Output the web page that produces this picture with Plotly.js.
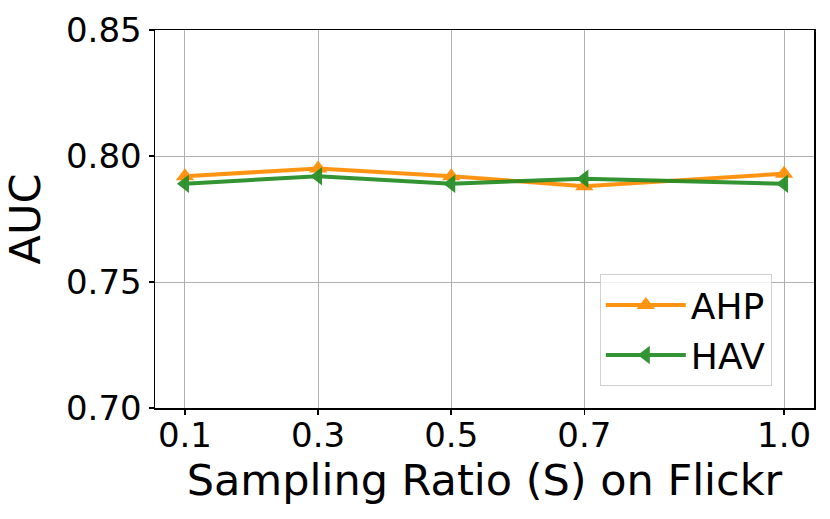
<!DOCTYPE html>
<html>
<head>
<meta charset="utf-8">
<script src="https://cdn.plot.ly/plotly-3.0.1.min.js"></script>
<style>
  html, body { margin: 0; padding: 0; background: #fff; }
  #chart { width: 830px; height: 519px; }
</style>
</head>
<body>
<div id="chart"></div>
<script>
// Werte
const ratios = [0.1, 0.3, 0.5, 0.7, 1.0];
const ratioLabels = ['0.1', '0.3', '0.5', '0.7', '1.0'];
const ahpAuc = [0.792, 0.795, 0.792, 0.788, 0.793];
const havAuc = [0.789, 0.792, 0.789, 0.791, 0.789];
const yTicks = [0.70, 0.75, 0.80, 0.85];

const font = 'DejaVu Sans, sans-serif';

const data = [
    {
        x: ratios, y: ahpAuc, name: 'AHP',
        type: 'scatter', mode: 'lines+markers',
        line: { color: '#ff8c00', width: 4 },
        marker: { symbol: 'triangle-up', size: 16, color: '#ff8c00' },
        opacity: 0.92
    },
    {
        x: ratios, y: havAuc, name: 'HAV',
        type: 'scatter', mode: 'lines+markers',
        line: { color: '#228b22', width: 4 },
        marker: { symbol: 'triangle-left', size: 16, color: '#228b22' },
        opacity: 0.92
    }
];

const axisCommon = {
    showline: true, linecolor: '#000', linewidth: 1.5, mirror: true,
    showgrid: true, gridcolor: '#b0b0b0', gridwidth: 1,
    zeroline: false,
    ticks: 'outside', ticklen: 5, tickwidth: 1.5, tickcolor: '#000',
    tickfont: { family: font, size: 34, color: '#000' },
    fixedrange: true
};

const layout = {
    width: 830, height: 519,
    margin: { l: 155, r: 16, t: 30, b: 111 },
    paper_bgcolor: '#fff', plot_bgcolor: '#fff',
    font: { family: font, color: '#000' },
    xaxis: Object.assign({}, axisCommon, {
        range: [0.055, 1.045],
        tickvals: ratios, ticktext: ratioLabels,
        ticklabelstandoff: -8,
        automargin: true,
        title: { text: 'Sampling Ratio (S) on Flickr', font: { family: font, size: 43 }, standoff: 0 }
    }),
    yaxis: Object.assign({}, axisCommon, {
        range: [0.70, 0.85],
        tickvals: yTicks, tickformat: '.2f',
        title: { text: 'AUC', font: { family: font, size: 43 }, standoff: 12 }
    }),
    showlegend: true,
    legend: {
        x: 0.675, y: 0.354, xanchor: 'left', yanchor: 'top',
        bgcolor: 'rgba(255,255,255,0.8)', bordercolor: '#d0d0d0', borderwidth: 1,
        font: { family: font, size: 36, color: '#000' },
        itemwidth: 80, tracegroupgap: 6
    }
};

Plotly.newPlot('chart', data, layout, { staticPlot: true });
</script>
</body>
</html>
